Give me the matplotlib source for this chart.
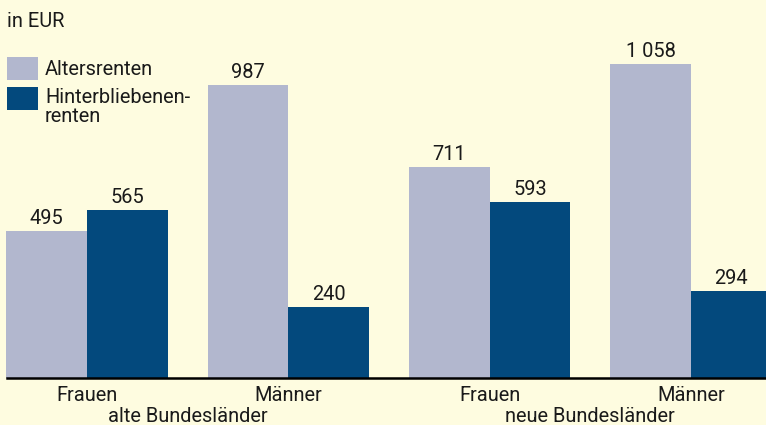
import matplotlib
matplotlib.use("Agg")
import numpy as np
import matplotlib.pyplot as plt
from matplotlib.patches import Rectangle

plt.rcParams["font.family"] = ["Roboto", "DejaVu Sans"]

# Durchschnittliche Renten in EUR
gruppen = ["Frauen", "Männer", "Frauen", "Männer"]
regionen = ["alte Bundesländer", "neue Bundesländer"]
altersrenten = [495, 987, 711, 1058]
hinterbliebenen = [565, 240, 593, 294]
wert_labels_alt = ["495", "987", "711", "1 058"]
wert_labels_hint = ["565", "240", "593", "294"]

BG = "#FEFCE0"
HELL = "#B2B7CE"
DUNKEL = "#03497D"
TXT = "#1a1a1a"
FS = 14.4

fig = plt.figure(figsize=(7.66, 4.25), dpi=100, facecolor=BG)
ax = fig.add_axes([0, 47 / 425, 1, 378 / 425])
ax.set_facecolor(BG)

x = np.arange(len(gruppen))
w = 0.401
ax.bar(x - w / 2, altersrenten, width=w, color=HELL, linewidth=0)
ax.bar(x + w / 2, hinterbliebenen, width=w, color=DUNKEL, linewidth=0)

for xi, v, s in zip(x - w / 2, altersrenten, wert_labels_alt):
    ax.annotate(s, (xi, v), xytext=(0, 7), textcoords="offset pixels",
                ha="center", va="baseline", fontsize=FS, color=TXT)
for xi, v, s in zip(x + w / 2, hinterbliebenen, wert_labels_hint):
    ax.annotate(s, (xi, v), xytext=(0, 7), textcoords="offset pixels",
                ha="center", va="baseline", fontsize=FS, color=TXT)

ax.set_xlim(-87 / 201.3, (766 - 87) / 201.3)
ax.set_ylim(0, 378 / 0.2968)
ax.axhline(0, xmin=7 / 766, xmax=1, color="black", lw=1.8, clip_on=False)
for s in ax.spines.values():
    s.set_visible(False)
ax.set_xticks([])
ax.set_yticks([])

# Kategorien unter der Achse
for xi, g in zip(x, gruppen):
    ax.annotate(g, (xi, 0), xytext=(0, -23), textcoords="offset pixels",
                ha="center", va="baseline", fontsize=FS, color=TXT)
for i, r in enumerate(regionen):
    ax.annotate(r, (2 * i + 0.5, 0), xytext=(0, -44), textcoords="offset pixels",
                ha="center", va="baseline", fontsize=FS, color=TXT)

# Einheit und Legende
fig.text(7 / 766, 1 - 27 / 425, "in EUR", ha="left", va="baseline",
         fontsize=FS, color=TXT)
fig.patches.append(Rectangle((7 / 766, 1 - 80 / 425), 31 / 766, 23 / 425,
                             transform=fig.transFigure, color=HELL, lw=0))
fig.patches.append(Rectangle((7 / 766, 1 - 110 / 425), 31 / 766, 23 / 425,
                             transform=fig.transFigure, color=DUNKEL, lw=0))
fig.text(45 / 766, 1 - 75 / 425, "Altersrenten", ha="left", va="baseline",
         fontsize=FS, color=TXT)
fig.text(45 / 766, 1 - 103 / 425, "Hinterbliebenen-", ha="left",
         va="baseline", fontsize=FS, color=TXT)
fig.text(45 / 766, 1 - 122 / 425, "renten", ha="left",
         va="baseline", fontsize=FS, color=TXT)

fig.savefig("out.png", dpi=100, facecolor=BG)
